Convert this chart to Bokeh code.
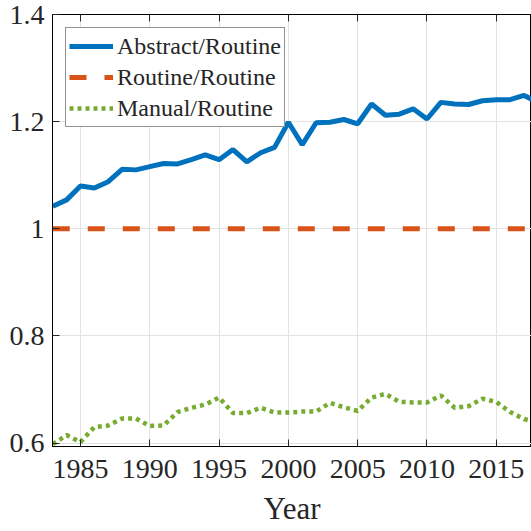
from bokeh.plotting import figure
from bokeh.models import Range1d, FixedTicker, LinearAxis, Legend, LegendItem
from bokeh.embed import file_html
from bokeh.resources import INLINE

years = list(range(1983, 2019))
abstract_routine = [1.042, 1.054, 1.080, 1.076, 1.088, 1.111, 1.110, 1.116, 1.122, 1.121,
                    1.129, 1.138, 1.129, 1.148, 1.125, 1.142, 1.152, 1.199, 1.157, 1.198,
                    1.199, 1.204, 1.196, 1.233, 1.212, 1.214, 1.224, 1.205, 1.236, 1.233,
                    1.232, 1.239, 1.241, 1.241, 1.249, 1.236]
routine_routine = [1.0, 1.0, 1.0, 1.0, 1.0, 1.0, 1.0, 1.0, 1.0, 1.0,
                   1.0, 1.0, 1.0, 1.0, 1.0, 1.0, 1.0, 1.0, 1.0, 1.0,
                   1.0, 1.0, 1.0, 1.0, 1.0, 1.0, 1.0, 1.0, 1.0, 1.0,
                   1.0, 1.0, 1.0, 1.0, 1.0, 1.0]
manual_routine = [0.598, 0.615, 0.602, 0.630, 0.633, 0.646, 0.646, 0.632, 0.633, 0.658,
                  0.666, 0.672, 0.685, 0.656, 0.656, 0.666, 0.657, 0.657, 0.659, 0.659,
                  0.675, 0.667, 0.660, 0.685, 0.692, 0.677, 0.676, 0.676, 0.689, 0.666,
                  0.669, 0.683, 0.677, 0.658, 0.645, 0.638]

series_names = ["Abstract/Routine", "Routine/Routine", "Manual/Routine"]
xtick_vals = [1985, 1990, 1995, 2000, 2005, 2010, 2015]
ytick_vals = [0.6, 0.8, 1.0, 1.2, 1.4]
ytick_labels = ["0.6", "0.8", "1", "1.2", "1.4"]
x_label = "Year"

FONT = "'Liberation Serif', 'DejaVu Serif', serif"

p = figure(width=531, height=531, output_backend="svg", toolbar_location=None,
           x_range=Range1d(1982.98, 2017.54), y_range=Range1d(0.5937, 1.4),
           min_border_left=52, min_border_right=0, min_border_top=14, min_border_bottom=85)

p.outline_line_color = "black"
p.outline_line_width = 1
p.background_fill_color = "white"
p.border_fill_color = "white"

r1 = p.line(years, abstract_routine, line_color="#0072BD", line_width=5)
r2 = p.line(years, routine_routine, line_color="#D95319", line_width=5,
            line_dash="17 18", line_cap="butt")
r3 = p.line(years, manual_routine, line_color="#77AC30", line_width=4.5,
            line_dash="4 4", line_cap="butt")

for ax in (p.xaxis[0], p.yaxis[0]):
    ax.axis_line_color = "black"
    ax.major_tick_in = 7
    ax.major_tick_out = 0
    ax.minor_tick_in = 0
    ax.minor_tick_out = 0
    ax.major_tick_line_color = "#262626"
    ax.major_label_text_font = FONT
    ax.major_label_text_font_size = "28px"
    ax.major_label_text_color = "#262626"

p.xaxis[0].ticker = FixedTicker(ticks=xtick_vals)
p.xaxis[0].major_label_standoff = 13
p.xaxis[0].axis_label = x_label
p.xaxis[0].axis_label_text_font = FONT
p.xaxis[0].axis_label_text_font_size = "31px"
p.xaxis[0].axis_label_text_font_style = "normal"
p.xaxis[0].axis_label_text_color = "#262626"
p.xaxis[0].axis_label_standoff = 10

p.yaxis[0].ticker = FixedTicker(ticks=ytick_vals)
p.yaxis[0].major_label_overrides = dict(zip(ytick_vals, ytick_labels))
p.yaxis[0].major_label_standoff = 8
p.yaxis[0].major_label_orientation = "horizontal"

top = LinearAxis(ticker=FixedTicker(ticks=xtick_vals),
                 major_label_overrides={t: "" for t in xtick_vals},
                 major_tick_in=7, major_tick_out=0, minor_tick_in=0, minor_tick_out=0,
                 axis_line_color="black", major_tick_line_color="#262626",
                 major_label_standoff=0)
p.add_layout(top, "above")

p.xgrid.ticker = FixedTicker(ticks=xtick_vals)
p.ygrid.ticker = FixedTicker(ticks=ytick_vals)
p.grid.grid_line_color = "#e3e3e3"
p.grid.grid_line_width = 1

legend = Legend(items=[LegendItem(label=series_names[0], renderers=[r1]),
                       LegendItem(label=series_names[1], renderers=[r2]),
                       LegendItem(label=series_names[2], renderers=[r3])],
                location="top_left")
legend.margin = 13
legend.padding = 3
legend.spacing = 1
legend.glyph_width = 44
legend.glyph_height = 30
legend.label_height = 30
legend.label_standoff = 4
legend.label_text_font = FONT
legend.label_text_font_size = "24px"
legend.label_text_color = "#262626"
legend.border_line_color = "#262626"
legend.border_line_width = 1
legend.background_fill_alpha = 1
legend.background_fill_color = "white"
p.add_layout(legend, "center")

open("out.html", "w").write(file_html(p, INLINE))
